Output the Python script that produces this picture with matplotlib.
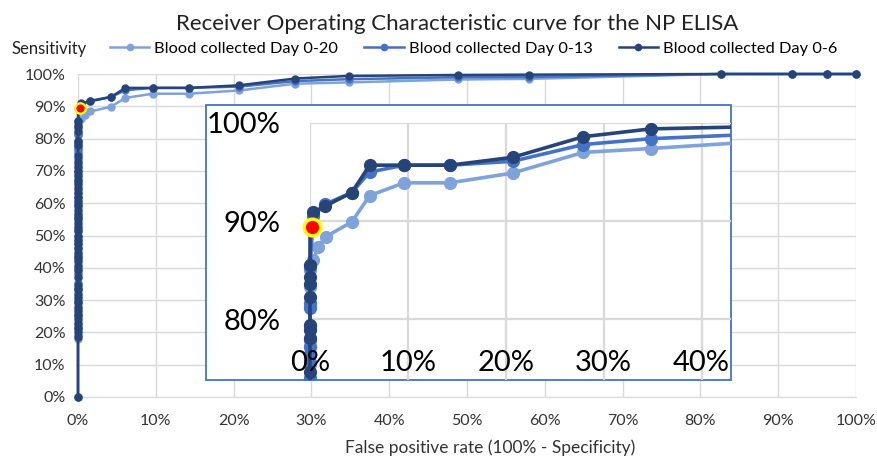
import matplotlib
matplotlib.use("Agg")
import matplotlib.pyplot as plt
from matplotlib.patches import Rectangle
from matplotlib.ticker import PercentFormatter

plt.rcParams['font.family'] = ['Lato', 'DejaVu Sans']

# ROC points, in percent (x = false positive rate, y = sensitivity)
d20_x = [0] * 35 + [0.34, 0.85, 1.6, 4.25, 6.1, 9.6, 14.3, 20.7, 27.9, 34.8, 48.9, 58.0, 82.6, 91.8, 96.3, 100]
d20_y = [0, 18.0, 20.7, 22.0, 24.7, 26.0, 28.7, 30.0, 32.7, 34.0, 36.7, 38.7, 41.3, 43.3, 45.3, 47.3, 49.3,
         51.3, 53.3, 55.3, 57.3, 59.3, 61.3, 63.3, 65.3, 67.3, 69.3, 71.3, 73.3, 75.3, 77.3, 79.3, 81.3,
         83.3, 85.0,
         86.0, 87.4, 88.4, 89.9, 92.6, 93.9, 93.9, 94.9, 97.0, 97.4, 98.3, 98.5, 100, 100, 100, 100]

d13_x = [0] * 36 + [0.34, 1.5, 4.25, 6.1, 9.6, 14.3, 20.7, 27.9, 34.8, 48.9, 58.0, 82.6, 91.8, 96.3, 100]
d13_y = [0, 19.3, 21.3, 23.3, 25.3, 27.3, 29.3, 31.3, 33.3, 35.3, 38.0, 40.0, 42.7, 44.0, 46.0, 48.0, 50.0,
         52.0, 54.7, 56.0, 58.7, 60.0, 62.0, 64.0, 66.7, 68.0, 70.0, 72.0, 74.0, 75.6, 76.5, 77.2, 77.9,
         81.1, 81.6, 85.3,
         90.5, 91.7, 92.9, 95.0, 95.7, 95.7, 96.1, 97.8, 98.4, 99.0, 99.1, 100, 100, 100, 100]

d6_x = [0] * 50 + [0.34, 1.5, 4.25, 6.1, 9.6, 14.3, 20.7, 27.9, 34.8, 48.9, 58.0, 82.6, 91.8, 96.3, 100]
d6_y = [0, 18.7, 20.0, 21.3, 22.7, 24.0, 25.3, 26.7, 28.0, 29.3, 30.7, 32.0, 33.3, 34.7, 37.3, 39.3, 40.7,
        42.0, 43.3, 44.7, 46.0, 47.3, 48.7, 50.0, 51.3, 52.7, 54.0, 55.3, 56.7, 58.0, 59.3, 60.7, 62.0,
        63.3, 64.7, 66.0, 67.3, 68.7, 70.0, 71.3, 72.7, 74.6, 78.1, 78.9, 79.4, 82.3, 83.6, 84.3, 85.5, 89.4,
        90.9, 91.5, 92.9, 95.7, 95.7, 95.7, 96.5, 98.6, 99.4, 99.7, 99.8, 100, 100, 100, 100]

cutoff_x = [0.25]
cutoff_y = [89.4]

series = [
    ("Blood collected Day 0-20", d20_x, d20_y, "#7fa2db"),
    ("Blood collected Day 0-13", d13_x, d13_y, "#4472c4"),
    ("Blood collected Day 0-6", d6_x, d6_y, "#264478"),
]
main_ticks = [0, 10, 20, 30, 40, 50, 60, 70, 80, 90, 100]
inset_xticks = [0, 10, 20, 30, 40]
inset_yticks = [80, 90, 100]

W, H = 877, 459
fig = plt.figure(figsize=(W / 100, H / 100), dpi=100)

# main chart
ax = fig.add_axes([78 / W, 1 - 397 / H, (856 - 78) / W, (397 - 74) / H])
for name, xs, ys, c in series:
    ax.plot(xs, ys, color=c, lw=1.8, marker='o', ms=5, label=name, clip_on=False, zorder=3)
ax.plot(cutoff_x, cutoff_y, 'o', color='red', mec='yellow', mew=1.6, ms=7.5, zorder=4, clip_on=False)
ax.set_xlim(0, 100)
ax.set_ylim(0, 100)
ax.set_xticks(main_ticks)
ax.set_yticks(main_ticks)
ax.xaxis.set_major_formatter(PercentFormatter(100, decimals=0))
ax.yaxis.set_major_formatter(PercentFormatter(100, decimals=0))
ax.grid(True, color='#d9d9d9', lw=1)
ax.set_axisbelow(True)
for s in ['top', 'right', 'left']:
    ax.spines[s].set_visible(False)
ax.spines['bottom'].set_color('#d9d9d9')
ax.tick_params(length=0, labelsize=11.5, colors='#333333')
ax.tick_params(axis='x', pad=12)
ax.tick_params(axis='y', pad=9)

fig.text(490 / W, 1 - 448 / H, "False positive rate (100% - Specificity)", ha='center', va='center',
         fontsize=12.5, color='#333333')
fig.text(12 / W, 1 - 54 / H, "Sensitivity", ha='left', va='baseline', fontsize=12, color='#222222')
fig.text(457 / W, 1 - 30 / H, "Receiver Operating Characteristic curve for the NP ELISA", ha='center',
         va='baseline', fontsize=16, color='#222222')

fig.legend(*ax.get_legend_handles_labels(), loc='center left', bbox_to_anchor=(110 / W, 1 - 49 / H),
           ncol=3, frameon=False, fontsize=11.8, handlelength=2.4, handletextpad=0.3,
           columnspacing=1.6, borderpad=0, borderaxespad=0)
for h in fig.legends[0].legend_handles:
    h.set_markersize(4.5)

# inset frame
frame = Rectangle((206 / W, 1 - 380 / H), 525 / W, 275 / H, transform=fig.transFigure,
                  facecolor='white', edgecolor='#4472c4', lw=1.3, zorder=5)
fig.patches.append(frame)

axi = fig.add_axes([310 / W, 1 - 380 / H, (731 - 310) / W, (380 - 123) / H], zorder=6)
axi.patch.set_visible(False)
for v in inset_xticks:
    axi.axvline(v, color='#d9d9d9', lw=1.6, zorder=0)
for v in inset_yticks:
    axi.axhline(v, color='#d9d9d9', lw=1.6, zorder=0)
for name, xs, ys, c in series:
    ln, = axi.plot(xs, ys, color=c, lw=2.6, marker='o', ms=8.5, zorder=2)
    ln.set_clip_path(frame)
dot, = axi.plot(cutoff_x, cutoff_y, 'o', color='red', mec='yellow', mew=2.5, ms=12, zorder=4)
dot.set_clip_path(frame)
axi.set_xlim(0, 43)
axi.set_ylim(73.8, 100)
axi.set_xticks(inset_xticks)
axi.set_yticks(inset_yticks)
axi.xaxis.set_major_formatter(PercentFormatter(100, decimals=0))
axi.yaxis.set_major_formatter(PercentFormatter(100, decimals=0))
axi.set_axisbelow(False)
for s in axi.spines.values():
    s.set_visible(False)
axi.tick_params(length=0, labelsize=21, colors='black')
axi.tick_params(axis='y', pad=21)
axi.tick_params(axis='x', pad=-12)
for lbl in axi.get_xticklabels():
    lbl.set_va('center')

fig.savefig("out.png", dpi=100)
